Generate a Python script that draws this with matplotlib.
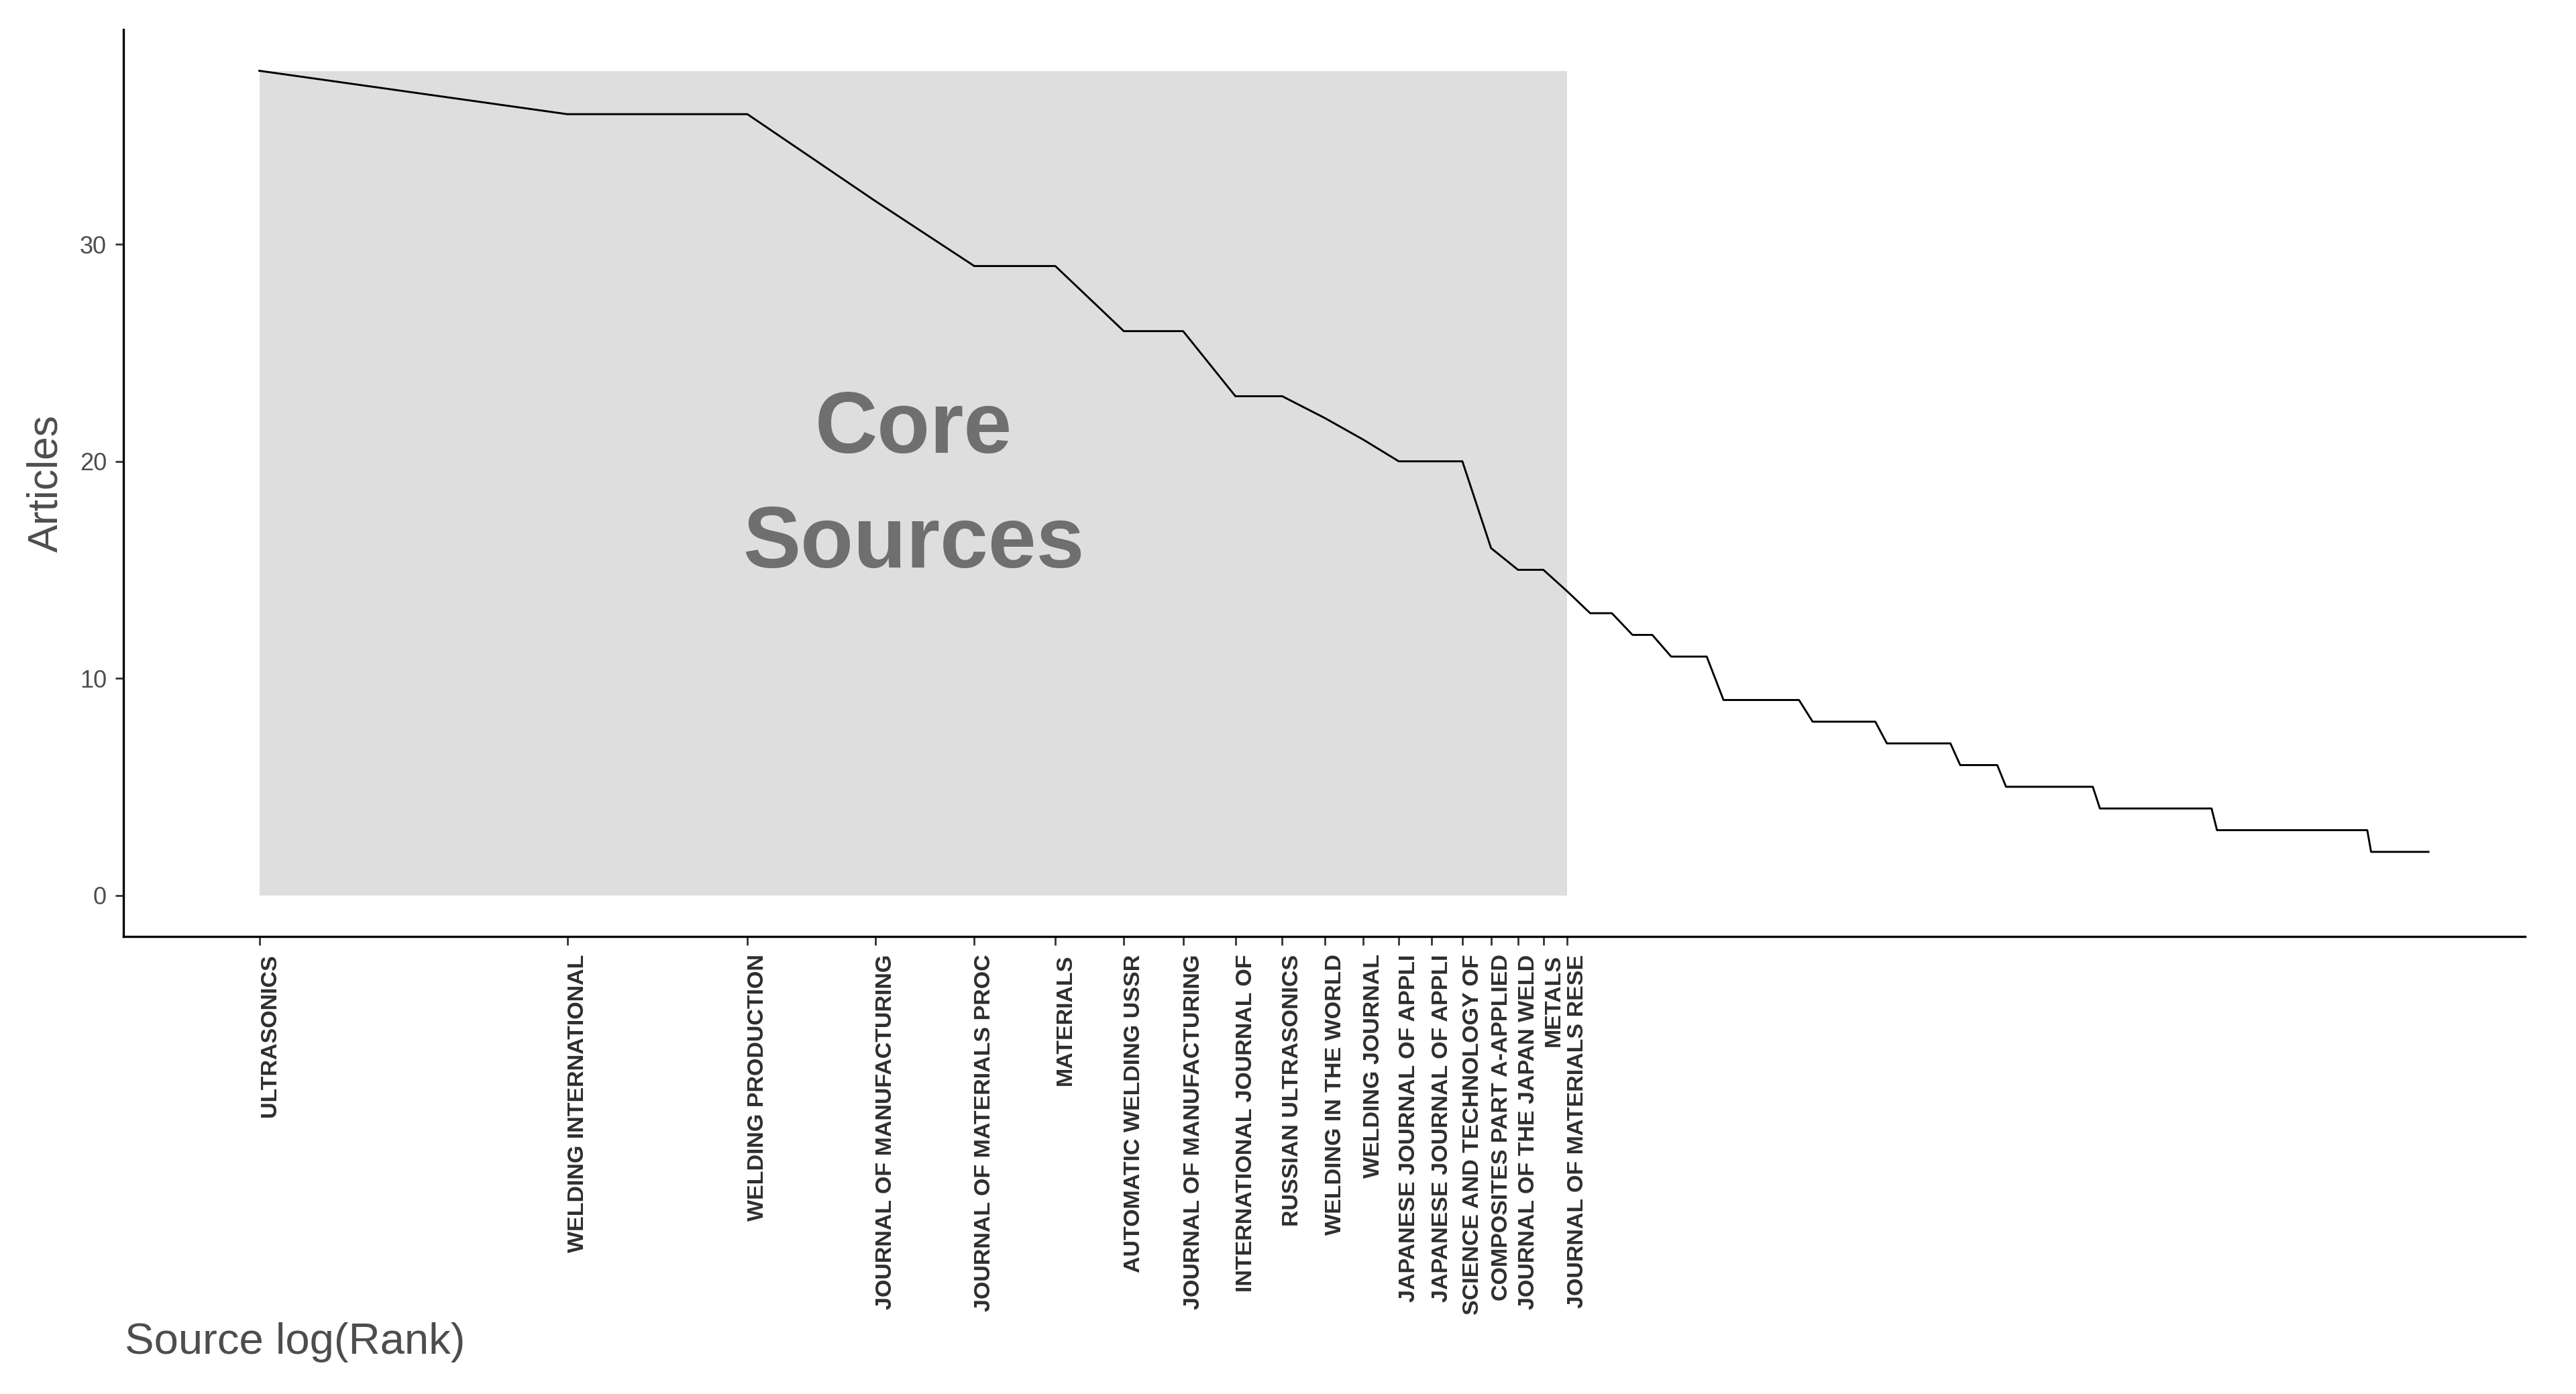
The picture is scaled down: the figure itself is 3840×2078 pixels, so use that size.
import numpy as np
import matplotlib
matplotlib.use("Agg")
import matplotlib.pyplot as plt
from matplotlib.patches import Rectangle

plt.rcParams['font.family'] = ['Liberation Sans', 'DejaVu Sans']

# Articles per source, ordered by rank (rank 1 .. 132)
articles = [38, 36, 36, 32, 29, 29, 26, 26, 23, 23,
            22, 21, 20, 20, 20, 16, 15, 15, 14, 13,
            13, 12, 12, 11, 11, 11, 9, 9, 9, 9,
            9, 9, 8, 8, 8, 8, 8, 8, 7, 7,
            7, 7, 7, 7, 7, 6, 6, 6, 6, 6,
            5, 5, 5, 5, 5, 5, 5, 5, 5, 5,
            5, 5, 4, 4, 4, 4, 4, 4, 4, 4,
            4, 4, 4, 4, 4, 4, 4, 4, 4, 4,
            4, 3, 3, 3, 3, 3, 3, 3, 3, 3,
            3, 3, 3, 3, 3, 3, 3, 3, 3, 3,
            3, 3, 3, 3, 3, 3, 3, 3, 3, 3,
            3, 3, 3, 3, 3, 2, 2, 2, 2, 2,
            2, 2, 2, 2, 2, 2, 2, 2, 2, 2,
            2, 2]

# Core sources (Bradford zone 1) labels, truncated to 25 chars as in the source
core_sources = [
    "ULTRASONICS",
    "WELDING INTERNATIONAL",
    "WELDING PRODUCTION",
    "JOURNAL OF MANUFACTURING",
    "JOURNAL OF MATERIALS PROC",
    "MATERIALS",
    "AUTOMATIC WELDING USSR",
    "JOURNAL OF MANUFACTURING",
    "INTERNATIONAL JOURNAL OF",
    "RUSSIAN ULTRASONICS",
    "WELDING IN THE WORLD",
    "WELDING JOURNAL",
    "JAPANESE JOURNAL OF APPLI",
    "JAPANESE JOURNAL OF APPLI",
    "SCIENCE AND TECHNOLOGY OF",
    "COMPOSITES PART A-APPLIED",
    "JOURNAL OF THE JAPAN WELD",
    "METALS",
    "JOURNAL OF MATERIALS RESE",
]

ranks = np.arange(1, len(articles) + 1)
logrank = np.log(ranks)
n_core = len(core_sources)
ymax = max(articles)

fig = plt.figure(figsize=(38.4, 20.78), dpi=100)
ax = fig.add_axes([0.0479, 0.3282, 0.9802 - 0.0479, 0.9788 - 0.3282])

ax.add_patch(Rectangle((0, 0), np.log(n_core), ymax, facecolor='#DEDEDE',
                       edgecolor='none', zorder=1))
ax.plot(logrank, articles, color='black', linewidth=2.1, zorder=3)

ax.annotate("Core\nSources", xy=(np.log(n_core) / 2, ymax / 2), xytext=(0, -5),
            textcoords='offset points', ha='center', va='center',
            fontsize=93, fontweight='bold', color='#6F6F6F', linespacing=1.53, zorder=2)

ax.set_xlim(-0.306, 5.10)
ax.set_ylim(-1.9, 39.9)

ax.set_xticks(logrank[:n_core])
ax.set_xticklabels(core_sources, rotation=90, rotation_mode='anchor',
                   ha='right', va='top',
                   fontsize=24.5, fontweight='bold', color='#2E2E2E')
ax.set_yticks([0, 10, 20, 30])
ax.set_yticklabels(['0', '10', '20', '30'], fontsize=26, color='#4D4D4D')

ax.tick_params(axis='x', length=9, width=2.0, pad=10, color='#333333')
ax.tick_params(axis='y', length=9, width=2.0, pad=9, color='#333333')

for s in ['top', 'right']:
    ax.spines[s].set_visible(False)
for s in ['left', 'bottom']:
    ax.spines[s].set_linewidth(2.4)
    ax.spines[s].set_color('black')

ax.set_facecolor('white')
fig.patch.set_facecolor('white')

fig.text(186 / 3840, 1 - 2001 / 2078, "Source log(Rank)", ha='left', va='center',
         fontsize=47, color='#4D4D4D')
fig.text(69 / 3840, ax.get_position().y0 + ax.get_position().height / 2, "Articles",
         ha='center', va='center', rotation=90, fontsize=45, color='#4D4D4D')

fig.savefig("out.png", dpi=100, facecolor='white')
